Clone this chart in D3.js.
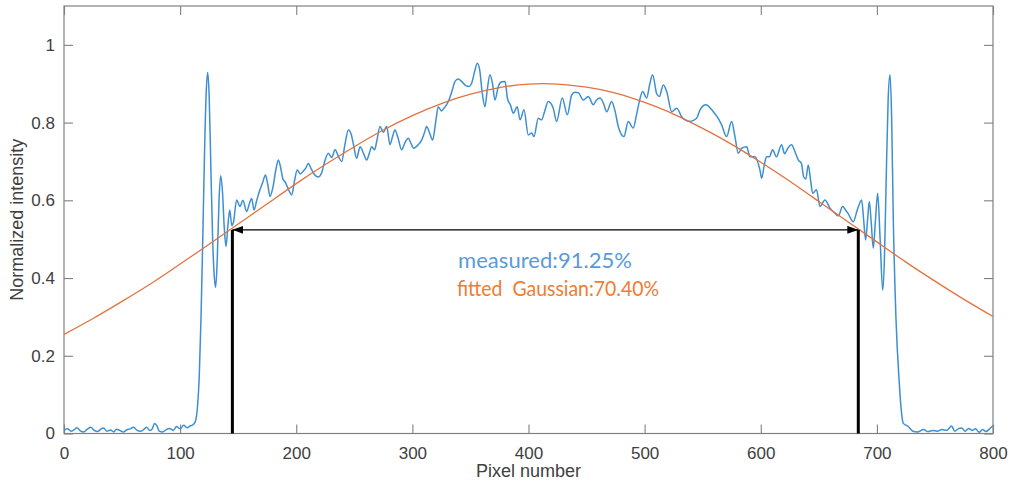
<!DOCTYPE html>
<html>
<head>
<meta charset="utf-8">
<script src="https://cdn.jsdelivr.net/npm/d3@7"></script>
<style>
  html, body { margin: 0; padding: 0; background: #fff; }
  #chart { width: 1011px; height: 487px; }
  .tick text { font-family: "Liberation Sans", Arial, Helvetica, sans-serif; font-size: 17px; fill: #404040; }
  .axis-label { font-family: "Liberation Sans", Arial, Helvetica, sans-serif; font-size: 18px; fill: #404040; }
  .note { font-family: Lato, "Open Sans", sans-serif; font-size: 22px; white-space: pre; }
</style>
</head>
<body>
<div id="chart"></div>
<script>
// pixel ticks and intensity ticks
const xTicks = [0, 100, 200, 300, 400, 500, 600, 700, 800];
const yTicks = [0, 0.2, 0.4, 0.6, 0.8, 1];

// measured beam profile [pixel, normalized intensity]
const measured = [
  [0,0.008],[3,0.012],[6,0.006],[9,0.01],[11,0.015],[14,0.007],[17,0.004],[20,0.011],
  [23,0.016],[26,0.008],[29,0.005],[32,0.012],[34,0.014],[37,0.006],[40,0.009],[43,0.004],
  [45,0.011],[48,0.008],[51,0.004],[54,0.009],[57,0.012],[60,0.016],[63,0.008],[66,0.006],
  [69,0.011],[71,0.016],[74,0.008],[76,0.012],[78,0.026],[80,0.02],[82,0.006],[85,0.004],
  [88,0.01],[91,0.013],[94,0.008],[97,0.018],[100,0.012],[103,0.021],[106,0.015],[109,0.02],
  [111,0.022],[113,0.03],[115,0.07],[116.5,0.15],[118,0.3],[119.5,0.5],[121,0.72],[122.5,0.88],
  [123.7,0.929],[125,0.87],[126.5,0.68],[128,0.5],[129.5,0.4],[130.6,0.376],[132,0.45],[133.5,0.6],
  [134.9,0.663],[136.5,0.62],[138,0.53],[139.5,0.481],[141,0.53],[142.7,0.575],[144.5,0.535],[146,0.545],
  [148.7,0.601],[151.6,0.584],[154,0.6],[157.3,0.571],[159.5,0.59],[161.6,0.605],[163.6,0.575],[166,0.6],
  [168.8,0.628],[171,0.645],[173.5,0.665],[175.5,0.64],[177.4,0.61],[180,0.635],[182.5,0.68],[184.6,0.704],
  [186.5,0.685],[188.5,0.655],[190.3,0.648],[193,0.63],[196.1,0.614],[198.5,0.65],[200.8,0.678],[203.5,0.668],
  [206,0.675],[208,0.682],[210.4,0.695],[213,0.68],[216,0.665],[219,0.66],[221.5,0.668],[224.5,0.7],
  [227.6,0.721],[230.5,0.71],[233.4,0.73],[236.5,0.712],[239.1,0.7],[242,0.745],[244.9,0.781],[247.3,0.77],
  [249.5,0.74],[252,0.708],[255,0.738],[258,0.72],[260.7,0.704],[263,0.722],[265,0.738],[267.5,0.73],
  [269.5,0.755],[272.1,0.79],[275,0.775],[277.9,0.79],[280.7,0.743],[283,0.765],[285,0.781],[287.5,0.762],
  [290.8,0.73],[293.5,0.748],[296.5,0.76],[299,0.745],[301,0.734],[304,0.74],[308,0.755],[310.5,0.775],
  [312.3,0.79],[315,0.772],[317.5,0.755],[320,0.8],[322.3,0.841],[325,0.83],[327.5,0.838],[329.5,0.846],
  [332,0.862],[334.5,0.885],[336.7,0.906],[339.5,0.912],[342.4,0.906],[346,0.895],[349,0.893],[351,0.901],
  [353.5,0.93],[355.9,0.953],[358,0.935],[360,0.88],[362.5,0.841],[364.5,0.885],[366.8,0.923],[369,0.9],
  [371.1,0.858],[374,0.893],[377,0.905],[379.8,0.906],[382,0.86],[384.5,0.845],[386.9,0.824],[390.3,0.841],
  [392.7,0.807],[396.1,0.833],[399.8,0.768],[402.7,0.773],[404.7,0.764],[408.4,0.811],[411.3,0.807],[414,0.83],
  [417,0.854],[421.3,0.837],[424.2,0.803],[429.1,0.863],[433.4,0.82],[437.2,0.871],[440,0.878],[442.9,0.877],
  [447.2,0.858],[451.5,0.867],[455.8,0.846],[458.6,0.858],[461.6,0.863],[464.5,0.85],[467.3,0.828],[471.6,0.854],
  [474.5,0.83],[477.3,0.79],[482.2,0.764],[485.9,0.803],[490.2,0.786],[493,0.82],[495.4,0.854],[498.3,0.88],
  [501.7,0.863],[504.5,0.9],[506.9,0.923],[510.3,0.875],[512.6,0.867],[516.1,0.897],[519,0.88],[523.3,0.828],
  [527.6,0.837],[531.9,0.815],[534.8,0.807],[539.1,0.803],[544.8,0.811],[547.7,0.833],[552.8,0.846],[559.1,0.828],
  [563.4,0.811],[566.3,0.794],[570.6,0.764],[574.9,0.803],[577.8,0.764],[580.6,0.721],[583.5,0.734],[587.9,0.738],
  [590.7,0.712],[595,0.712],[599.3,0.678],[600.8,0.657],[603,0.69],[605,0.712],[607.5,0.712],[610.2,0.73],
  [613.5,0.712],[617.9,0.743],[620.5,0.72],[623.5,0.735],[626.5,0.743],[629.5,0.725],[632.3,0.704],[635,0.695],
  [637,0.66],[638.8,0.655],[640.9,0.691],[643,0.65],[644.7,0.618],[648,0.627],[651,0.584],[655.3,0.601],
  [659.6,0.58],[663.9,0.567],[666.8,0.56],[670.5,0.584],[673,0.575],[675,0.567],[679.7,0.545],[683.1,0.575],
  [686.9,0.601],[688.6,0.55],[690.3,0.498],[692,0.55],[693.5,0.597],[695.2,0.54],[696.9,0.477],[698.8,0.55],
  [700.7,0.618],[702.8,0.5],[705,0.369],[706.5,0.45],[708,0.65],[709.7,0.86],[711.3,0.923],[712.7,0.815],
  [714.1,0.558],[716.4,0.3],[719.3,0.13],[721,0.06],[722.8,0.026],[727,0.018],[731,0.006],[735,0.004],
  [740,0.01],[744,0.005],[748,0.008],[752,0.006],[756,0.01],[760,0.008],[764.4,0.019],[767,0.006],
  [770,0.012],[773,0.014],[776,0.006],[779,0.013],[782,0.008],[785,0.012],[788,0.003],[791,0.01],
  [794,0.005],[797,0.012],[800,0.02]
];

// fitted Gaussian, sampled every 25 pixels
const fitPixels = [0,25,50,75,100,125,150,175,200,225,250,275,300,325,350,375,400,
  425,450,475,500,525,550,575,600,625,650,675,700,725,750,775,800];
const fitIntensity = [0.255,0.296,0.340,0.386,0.436,0.487,0.539,0.591,0.643,0.692,0.738,0.781,0.818,0.849,0.873,0.890,0.899,
  0.899,0.891,0.876,0.852,0.822,0.785,0.744,0.698,0.649,0.597,0.545,0.493,0.441,0.392,0.345,0.301];

// width markers: edge pixels and the level they are drawn up to
const edgePixels = [145, 684];
const edgeLevel = 0.524;

const noteLines = ["measured:91.25%", "fitted  Gaussian:70.40%"];

const width = 1011, height = 487;
const plot = { left: 64, right: 993, top: 6, bottom: 433.5 };

const svg = d3.select("#chart")
  .append("svg")
  .attr("width", width)
  .attr("height", height);

const x = d3.scaleLinear().domain([0, 800]).range([plot.left, plot.right]);
const y = d3.scaleLinear().domain([0, 1.1]).range([plot.bottom, plot.top]);

svg.append("defs")
  .append("marker")
  .attr("id", "arrow")
  .attr("viewBox", "0 0 11 8")
  .attr("refX", 11)
  .attr("refY", 4)
  .attr("markerUnits", "userSpaceOnUse")
  .attr("markerWidth", 11)
  .attr("markerHeight", 8)
  .attr("orient", "auto-start-reverse")
  .append("path")
  .attr("d", "M0,0L11,4L0,8Z")
  .attr("fill", "#000");

// ticks pointing inwards on all four sides
const tick = 9;
const gx = svg.append("g")
  .attr("transform", `translate(0,${plot.bottom})`)
  .call(d3.axisBottom(x).tickValues(xTicks).tickSize(-tick).tickSizeOuter(0).tickPadding(13));
const gy = svg.append("g")
  .attr("transform", `translate(${plot.left},0)`)
  .call(d3.axisLeft(y).tickValues(yTicks).tickFormat(d3.format("~g")).tickSize(-tick).tickSizeOuter(0).tickPadding(9));
const gt = svg.append("g")
  .attr("transform", `translate(0,${plot.top})`)
  .call(d3.axisTop(x).tickValues(xTicks).tickFormat("").tickSize(-tick).tickSizeOuter(0));
const gr = svg.append("g")
  .attr("transform", `translate(${plot.right},0)`)
  .call(d3.axisRight(y).tickValues(yTicks).tickFormat("").tickSize(-tick).tickSizeOuter(0));

[gx, gy, gt, gr].forEach(g => {
  g.select(".domain").remove();
  g.selectAll(".tick line").attr("stroke", "#808080").attr("stroke-width", 1.1);
});

svg.append("rect")
  .attr("x", plot.left)
  .attr("y", plot.top)
  .attr("width", plot.right - plot.left)
  .attr("height", plot.bottom - plot.top)
  .attr("fill", "none")
  .attr("stroke", "#808080")
  .attr("stroke-width", 1.2);

svg.append("text")
  .attr("class", "axis-label")
  .attr("x", (plot.left + plot.right) / 2)
  .attr("y", 477)
  .attr("text-anchor", "middle")
  .text("Pixel number");

svg.append("text")
  .attr("class", "axis-label")
  .attr("transform", `translate(23,${(plot.top + plot.bottom) / 2}) rotate(-90)`)
  .attr("text-anchor", "middle")
  .text("Normalized intensity");

// curves
const line = d3.line()
  .x(d => x(d[0]))
  .y(d => y(d[1]));

svg.append("path")
  .datum(measured)
  .attr("fill", "none")
  .attr("stroke", "#3d8fd1")
  .attr("stroke-width", 1.5)
  .attr("stroke-linejoin", "round")
  .attr("d", line.curve(d3.curveMonotoneX));

svg.append("path")
  .datum(fitPixels.map((p, i) => [p, fitIntensity[i]]))
  .attr("fill", "none")
  .attr("stroke", "#e2733f")
  .attr("stroke-width", 1.3)
  .attr("d", line.curve(d3.curveNatural));

// width markers
svg.selectAll("line.edge")
  .data(edgePixels)
  .join("line")
  .attr("class", "edge")
  .attr("x1", d => x(d))
  .attr("x2", d => x(d))
  .attr("y1", y(0))
  .attr("y2", y(edgeLevel))
  .attr("stroke", "#000")
  .attr("stroke-width", 3);

svg.append("line")
  .attr("x1", x(edgePixels[0]))
  .attr("x2", x(edgePixels[1]))
  .attr("y1", y(edgeLevel))
  .attr("y2", y(edgeLevel))
  .attr("stroke", "#000")
  .attr("stroke-width", 1.3)
  .attr("marker-start", "url(#arrow)")
  .attr("marker-end", "url(#arrow)");

// the two width readings, fitted to the widths they take up
svg.append("text")
  .attr("class", "note")
  .attr("x", 458)
  .attr("y", 268)
  .attr("fill", "#5b9bd5")
  .attr("textLength", 174)
  .attr("lengthAdjust", "spacing")
  .text(noteLines[0]);

svg.append("text")
  .attr("class", "note")
  .attr("x", 457)
  .attr("y", 296)
  .attr("fill", "#ed7d31")
  .attr("textLength", 202)
  .attr("lengthAdjust", "spacingAndGlyphs")
  .text(noteLines[1]);
</script>
</body>
</html>
